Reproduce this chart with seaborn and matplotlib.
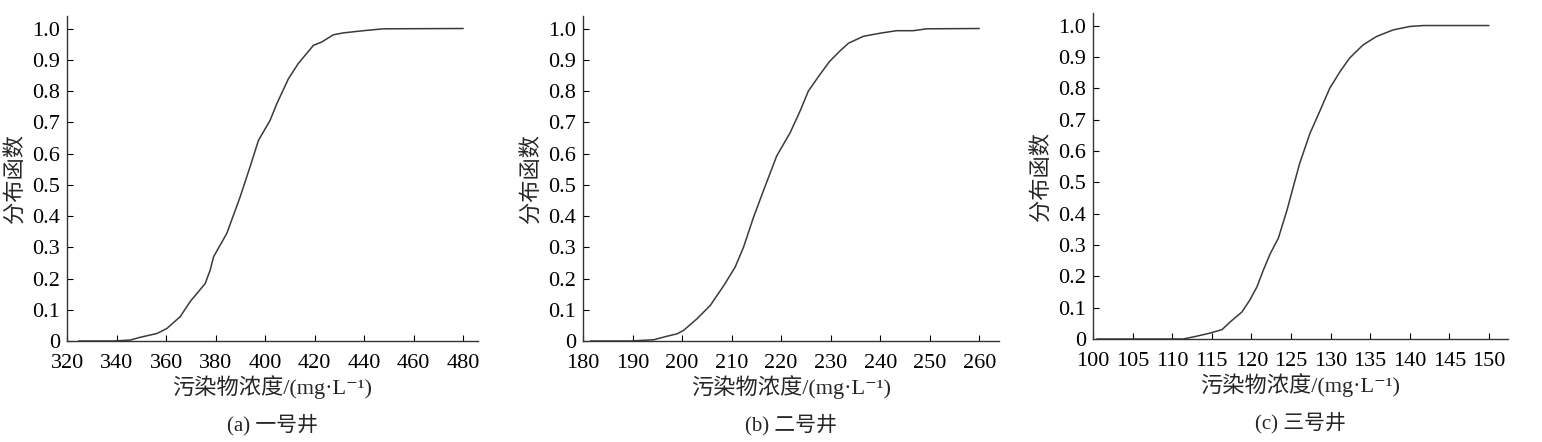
import numpy as np
import pandas as pd
import matplotlib
matplotlib.use("Agg")
import matplotlib.pyplot as plt
import seaborn as sns

# Values (concentration, CDF)
well1_x = [324.7, 338.8, 345.5, 349.6, 356.3, 360.3, 365.7, 369.7, 375.8, 377.8, 379.2,
           384.5, 389.9, 393.9, 397.3, 402.0, 404.7, 409.4, 413.4, 419.5, 422.9, 427.6,
           431.6, 439.7, 447.7, 480.0]
well1_y = [0.0, 0.0, 0.003, 0.012, 0.024, 0.04, 0.078, 0.126, 0.184, 0.227, 0.27,
           0.344, 0.461, 0.557, 0.642, 0.706, 0.759, 0.839, 0.888, 0.946, 0.957, 0.98,
           0.986, 0.993, 0.999, 1.0]

well2_x = [181.5, 189.5, 194.3, 196.9, 199.0, 200.3, 203.0, 205.7, 208.4, 210.7, 212.4,
           214.4, 216.4, 219.1, 221.8, 223.8, 225.5, 227.8, 229.8, 231.8, 233.6, 236.6,
           240.0, 243.3, 246.7, 249.4, 260.0]
well2_y = [0.0, 0.0, 0.004, 0.015, 0.023, 0.034, 0.071, 0.114, 0.177, 0.236, 0.3,
           0.395, 0.48, 0.592, 0.666, 0.735, 0.8, 0.852, 0.895, 0.927, 0.953, 0.975,
           0.985, 0.993, 0.993, 0.999, 1.0]

well3_x = [100.5, 111.4, 113.1, 114.8, 116.3, 117.3, 118.8, 119.8, 120.7, 121.5, 122.4,
           123.4, 124.5, 125.3, 126.1, 127.4, 128.7, 129.9, 131.2, 132.4, 134.1, 135.8,
           137.9, 140.0, 141.7, 150.0]
well3_y = [0.0, 0.0, 0.009, 0.019, 0.03, 0.054, 0.086, 0.124, 0.166, 0.219, 0.273,
           0.321, 0.411, 0.486, 0.56, 0.656, 0.73, 0.8, 0.853, 0.896, 0.938, 0.965,
           0.986, 0.997, 1.0, 1.0]

captions = ["(a) 一号井", "(b) 二号井", "(c) 三号井"]
xticks = [np.arange(320, 481, 20), np.arange(180, 261, 10), np.arange(100, 151, 5)]
xlims = [(320, 486), (180, 264), (100, 152.4)]
yticks = [0, 0.1, 0.2, 0.3, 0.4, 0.5, 0.6, 0.7, 0.8, 0.9, 1.0]
ytick_labels = ["0", "0.1", "0.2", "0.3", "0.4", "0.5", "0.6", "0.7", "0.8", "0.9", "1.0"]

sns.set_style("ticks")
plt.rcParams['font.family'] = ['Liberation Serif', 'Noto Sans CJK SC', 'DejaVu Serif']

fig = plt.figure(figsize=(15.42, 4.42), dpi=100)
positions = [
    [0.0435, 0.2285, 0.2665, 0.7353],
    [0.3781, 0.2285, 0.2698, 0.7353],
    [0.7088, 0.2330, 0.2691, 0.7376],
]
series = [(well1_x, well1_y), (well2_x, well2_y), (well3_x, well3_y)]

for i, (xs, ys) in enumerate(series):
    ax = fig.add_axes(positions[i])
    df = pd.DataFrame({"x": xs, "y": ys})
    sns.lineplot(data=df, x="x", y="y", ax=ax, color="#3a3a3a", linewidth=1.1)
    ax.set_xlim(*xlims[i])
    ax.set_ylim(0, 1.04)
    ax.set_xticks(xticks[i])
    ax.set_yticks(yticks)
    ax.set_yticklabels(ytick_labels)
    ax.tick_params(direction="in", length=4, width=0.8, labelsize=16, colors="black")
    ax.tick_params(axis="x", pad=9)
    ax.tick_params(axis="y", pad=5)
    for s in ["top", "right"]:
        ax.spines[s].set_visible(False)
    for s in ["left", "bottom"]:
        ax.spines[s].set_color("#333333")
        ax.spines[s].set_linewidth(1.0)
    ax.set_xlabel("污染物浓度/(mg·L⁻¹)", fontsize=16, labelpad=2)
    ax.set_ylabel("分布函数", fontsize=16, labelpad=4)
    ax.text(0.5, -0.258, captions[i], transform=ax.transAxes, ha="center", va="center",
            fontsize=15)

fig.savefig("out.png", dpi=100)
